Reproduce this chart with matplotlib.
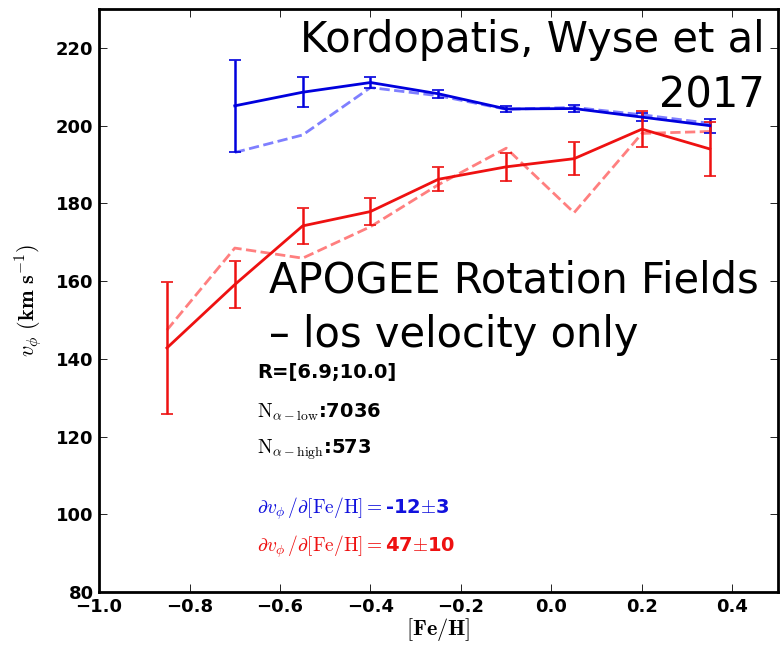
import numpy as np
import matplotlib
matplotlib.use('Agg')
import matplotlib.pyplot as plt

plt.rcParams['mathtext.fontset'] = 'cm'

# alpha-low (blue) and alpha-high (red) bins
feh_low = [-0.7, -0.55, -0.4, -0.25, -0.1, 0.05, 0.2, 0.35]
vphi_low = [205.1, 208.6, 211.1, 208.2, 204.3, 204.4, 202.2, 200.0]
err_low = [11.8, 3.8, 1.5, 1.0, 0.8, 0.8, 1.0, 1.8]
vphi_low_full = [193.1, 197.6, 209.8, 207.7, 204.2, 204.7, 202.8, 200.6]

feh_high = [-0.85, -0.7, -0.55, -0.4, -0.25, -0.1, 0.05, 0.2, 0.35]
vphi_high = [142.8, 159.1, 174.2, 177.9, 186.2, 189.4, 191.5, 199.1, 194.0]
err_high = [17.0, 6.1, 4.6, 3.4, 3.1, 3.6, 4.2, 4.7, 6.9]
vphi_high_full = [147.4, 168.5, 165.9, 174.0, 184.8, 194.2, 177.6, 198.0, 198.5]

fig = plt.figure(figsize=(7.8, 6.47), dpi=100)
ax = fig.add_axes([0.127, 0.085, 0.87, 0.901])

ax.plot(feh_low, vphi_low_full, '--', color='blue', alpha=0.5, lw=2)
ax.plot(feh_high, vphi_high_full, '--', color='red', alpha=0.5, lw=2)
ax.errorbar(feh_low, vphi_low, yerr=err_low, color='#0000dd', lw=2,
            capsize=4, capthick=1.2, elinewidth=1.8)
ax.errorbar(feh_high, vphi_high, yerr=err_high, color='#ee1111', lw=2,
            capsize=4, capthick=1.2, elinewidth=1.8)

ax.set_xlim(-1.0, 0.5)
ax.set_ylim(80, 230)
ax.set_xticks([-1.0, -0.8, -0.6, -0.4, -0.2, 0.0, 0.2, 0.4])
ax.set_yticks([80, 100, 120, 140, 160, 180, 200, 220])
ax.tick_params(direction='in', top=True, right=True, length=6, width=0.6,
               labelsize=13, pad=4)
for lab in ax.get_xticklabels() + ax.get_yticklabels():
    lab.set_fontweight('bold')
for s in ax.spines.values():
    s.set_linewidth(2)

ax.set_xlabel(r'$\mathbf{[Fe/H]}$', fontsize=16, labelpad=0)
ax.set_ylabel(r'$v_\phi\ \mathbf{(km\ s^{-1})}$', fontsize=16, labelpad=8)

kw = dict(fontsize=14, fontweight='bold')
ax.text(-0.65, 136.4, 'R=[6.9;10.0]', va='center', **kw)
ax.text(-0.65, 126.3, r'$\mathrm{N}_{\alpha-\mathrm{low}}$:7036', va='center', **kw)
ax.text(-0.65, 116.5, r'$\mathrm{N}_{\alpha-\mathrm{high}}$:573', va='center', **kw)
ax.text(-0.65, 101.4, r'$\partial v_\phi\,/\partial[\mathrm{Fe/H}]=$-12$\pm$3',
        va='center', color='#1111dd', **kw)
ax.text(-0.65, 91.6, r'$\partial v_\phi\,/\partial[\mathrm{Fe/H}]=$47$\pm$10',
        va='center', color='#ee1111', **kw)

big = 30
ax.text(0.981, 0.947, 'Kordopatis, Wyse et al', transform=ax.transAxes,
        ha='right', va='center', fontsize=big)
ax.text(0.981, 0.852, '2017', transform=ax.transAxes,
        ha='right', va='center', fontsize=big)
ax.text(0.25, 0.535, 'APOGEE Rotation Fields', transform=ax.transAxes,
        ha='left', va='center', fontsize=big)
ax.text(0.25, 0.441, '\u2013 los velocity only', transform=ax.transAxes,
        ha='left', va='center', fontsize=big)

fig.savefig('out.png', dpi=100)
